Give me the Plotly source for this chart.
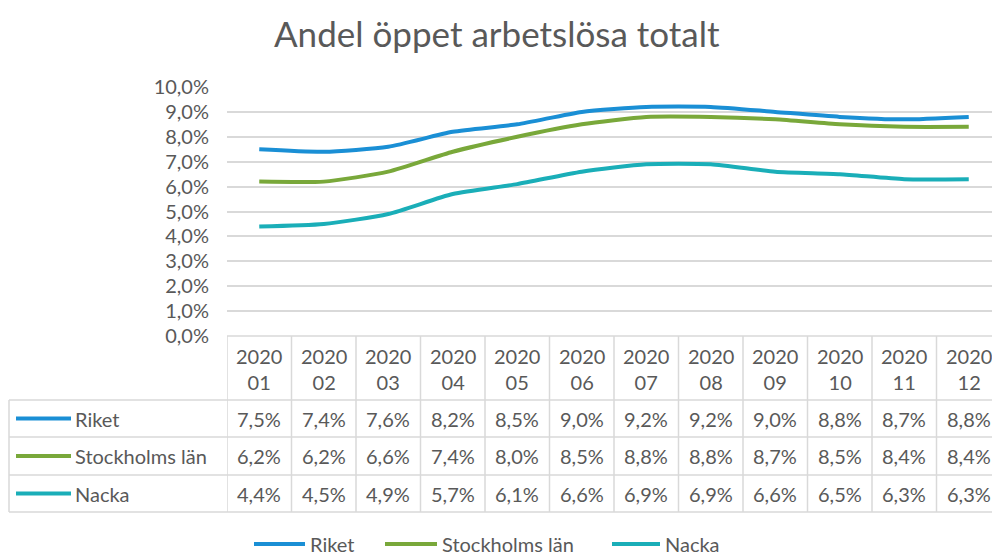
import plotly.graph_objects as go

months = ["01", "02", "03", "04", "05", "06", "07", "08", "09", "10", "11", "12"]
year = "2020"
series_names = ["Riket", "Stockholms län", "Nacka"]
riket = [7.5, 7.4, 7.6, 8.2, 8.5, 9.0, 9.2, 9.2, 9.0, 8.8, 8.7, 8.8]
stockholm = [6.2, 6.2, 6.6, 7.4, 8.0, 8.5, 8.8, 8.8, 8.7, 8.5, 8.4, 8.4]
nacka = [4.4, 4.5, 4.9, 5.7, 6.1, 6.6, 6.9, 6.9, 6.6, 6.5, 6.3, 6.3]
colors = ["#1A8FD5", "#79A83A", "#1AAEB8"]
y_ticks = [0, 1, 2, 3, 4, 5, 6, 7, 8, 9, 10]

series = [riket, stockholm, nacka]
W, H = 992, 555
FONT = "Lato, Open Sans, sans-serif"
TXT = "#595959"
GRID = "#D9D9D9"
FS = 20

def py(p):
    return 1 - p / H

def px(p):
    return p / W

x_idx = list(range(len(months)))
fig = go.Figure()
for name, vals, c in zip(series_names, series, colors):
    fig.add_trace(go.Scatter(
        x=x_idx, y=[v / 100 for v in vals], name=name, mode="lines",
        line=dict(color=c, width=4, shape="spline", smoothing=0.6),
        hoverinfo="skip", showlegend=False))

shapes = []
annotations = []
top, hdr_bot = 336, 400
row_bounds = [400, 437, 475, 512]
left_x = 9
for i in range(len(months) + 1):
    shapes.append(dict(type="line", xref="x", yref="paper", x0=i - 0.5, x1=i - 0.5,
                       y0=py(top), y1=py(row_bounds[-1]), line=dict(color=GRID, width=1.5)))
shapes.append(dict(type="line", xref="x", yref="paper", x0=-0.5, x1=11.5,
                   y0=py(top), y1=py(top), line=dict(color=GRID, width=1.5)))
for yb in row_bounds:
    shapes.append(dict(type="line", xref="paper", yref="paper", x0=px(left_x), x1=1,
                       y0=py(yb), y1=py(yb), line=dict(color=GRID, width=1.5)))
shapes.append(dict(type="line", xref="paper", yref="paper", x0=px(left_x), x1=px(left_x),
                   y0=py(row_bounds[0]), y1=py(row_bounds[-1]), line=dict(color=GRID, width=1.5)))

def ann(x, y, text, xref="paper", xanchor="center", size=FS):
    annotations.append(dict(xref=xref, yref="paper", x=x, y=y, text=text, showarrow=False,
                            xanchor=xanchor, yanchor="middle", align="center",
                            font=dict(family=FONT, size=size, color=TXT)))

for i, m in enumerate(months):
    ann(i, py((top + hdr_bot) / 2 + 1), f"{year}<br>{m}", xref="x")

for r, (name, vals, c) in enumerate(zip(series_names, series, colors)):
    yc = (row_bounds[r] + row_bounds[r + 1]) / 2
    shapes.append(dict(type="line", xref="paper", yref="paper", x0=px(16), x1=px(71),
                       y0=py(yc), y1=py(yc), line=dict(color=c, width=4)))
    ann(px(73), py(yc), name, xanchor="left")
    for i, v in enumerate(vals):
        ann(i, py(yc), f"{v:.1f}%".replace(".", ","), xref="x")

leg_x = [254, 385, 612]
leg_len = [51, 52, 48]
for name, c, lx, ll in zip(series_names, colors, leg_x, leg_len):
    shapes.append(dict(type="line", xref="paper", yref="paper", x0=px(lx), x1=px(lx + ll),
                       y0=py(544), y1=py(544), line=dict(color=c, width=4)))
    ann(px(lx + ll + 3), py(544), name, xanchor="left")

ann(px(497), py(33), "Andel öppet arbetslösa totalt", size=35)

fig.update_layout(
    width=W, height=H, margin=dict(l=0, r=0, t=0, b=0, autoexpand=False),
    paper_bgcolor="white", plot_bgcolor="white",
    separators=", ",
    shapes=shapes, annotations=annotations,
    font=dict(family=FONT, color=TXT),
    showlegend=False,
    xaxis=dict(domain=[px(227), 1], range=[-0.5, -0.5 + (992 - 227) / 64.5], automargin=False,
               showticklabels=False, showgrid=False, zeroline=False, fixedrange=True),
    yaxis=dict(domain=[py(336), py(87)], range=[0, 0.10], tickvals=[t / 100 for t in y_ticks],
               tickformat=".1%", showgrid=True, gridcolor=GRID, gridwidth=1.5, zeroline=False,
               automargin=False, ticks="", ticklabelstandoff=17, fixedrange=True,
               tickfont=dict(family=FONT, size=FS, color=TXT)),
)
fig.write_html("out.html", config={"displayModeBar": False},
               post_script="document.body.style.margin='0';document.body.style.overflow='hidden';")
